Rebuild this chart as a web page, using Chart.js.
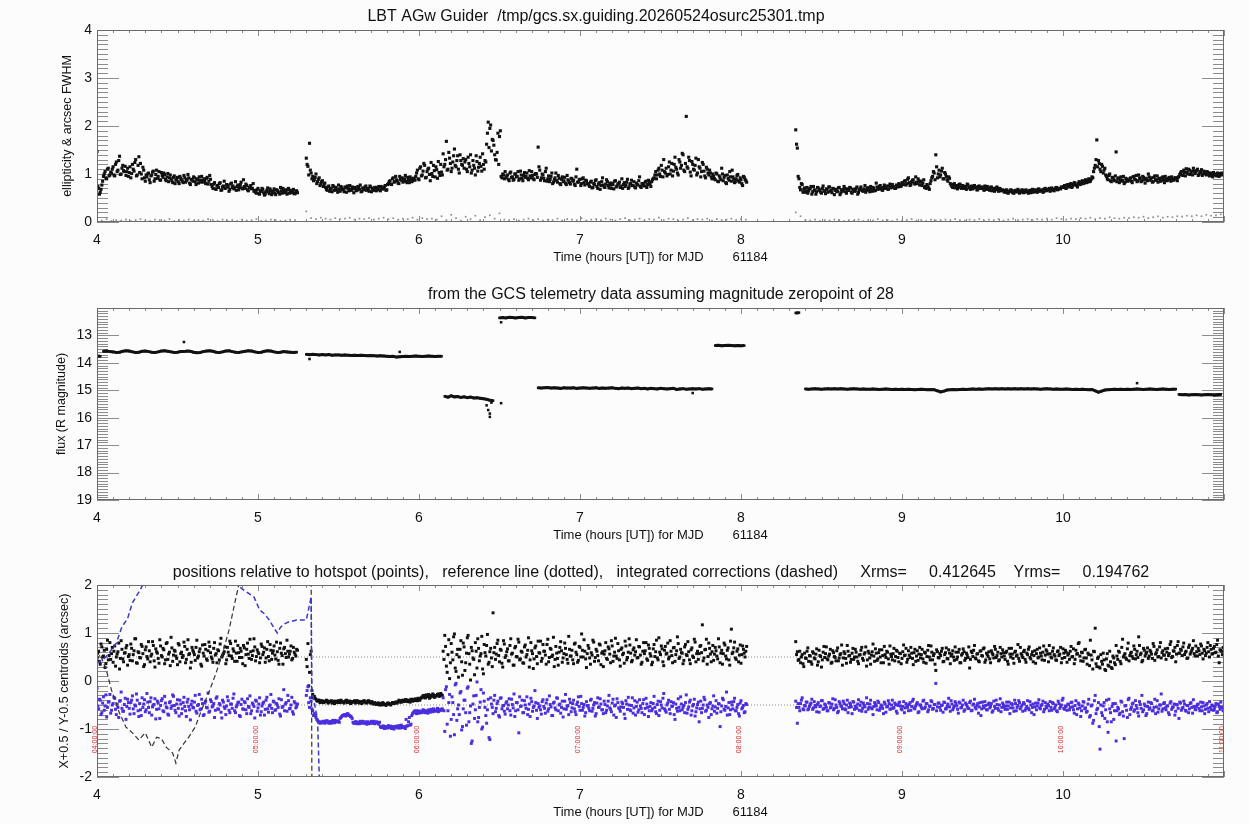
<!DOCTYPE html>
<html>
<head>
<meta charset="utf-8">
<script src="https://cdn.jsdelivr.net/npm/chart.js@4"></script>
<style>
body { margin: 0; background: #fdfcfd; }
canvas { position: absolute; left: 0; }
</style>
</head>
<body>
<canvas id="c1" width="1249" height="275" style="top:0px"></canvas>
<canvas id="c2" width="1249" height="275" style="top:275px"></canvas>
<canvas id="c3" width="1249" height="274" style="top:550px"></canvas>
<script>
Chart.defaults.font.family = '"Liberation Sans", Arial, sans-serif';

/* ---- panel 1 : FWHM (black) & ellipticity (grey) ---- */
// two interleaved reads per 0.01 h column
var fwhmStep = 0.01;
var fwhmStart = [4.00, 5.30, 8.34];
var fwhmStart2 = [4.005, 5.305, 8.345];
var fwhmA = [1.47, 0.70, 0.62, 0.77,
	0.95, 1.05, 0.90, 1.12, 0.98,
	1.02, 1.15, 0.96, 1.25, 1.08, 1.37, 1.00, 1.18, 1.05,
	0.97, 1.12, 1.03, 0.92, 1.20, 1.06, 1.30, 0.98, 1.36,
	1.22, 0.90, 1.08, 0.85,
	0.94, 1.02, 0.82, 0.98, 1.06, 0.90, 1.08, 0.95, 0.88, 1.03, 0.93, 0.99, 0.86, 1.01, 0.92,
	0.90, 0.82, 0.96, 0.87, 0.93, 0.80, 0.91, 0.85, 0.97, 0.83, 0.89, 0.92, 0.78, 0.88, 0.94, 0.84, 0.90, 0.81, 0.87, 0.95, 0.83, 0.86, 0.91, 0.79, 0.97,
	0.78, 0.70, 0.82, 0.68, 0.75, 0.80, 0.66, 0.73, 0.85, 0.71, 0.77, 0.64, 0.79, 0.72, 0.69, 0.84, 0.74, 0.67, 0.78, 0.71, 0.88, 0.70, 0.76, 0.65, 0.73, 0.69, 0.80,
	0.66, 0.60, 0.70, 0.58, 0.64, 0.68, 0.56, 0.63, 0.71, 0.59, 0.65, 0.61, 0.69, 0.57, 0.66, 0.62, 0.72, 0.60, 0.64, 0.67, 0.58, 0.70, 0.63, 0.61, 0.68, 0.59, 0.65];
var fwhmA2 = [0.74, 0.58, 0.68, 0.85,
	1.00, 0.92, 1.10, 0.96, 1.04,
	1.10, 0.98, 1.20, 1.05, 1.28, 0.99, 1.12, 1.07, 1.16,
	1.05, 0.95, 1.15, 1.01, 1.10, 1.24, 0.96, 1.18, 1.03,
	1.00, 1.14, 0.92, 0.98,
	1.00, 0.88, 0.96, 1.04, 0.85, 0.99, 0.91, 1.05, 0.87, 0.97, 1.02, 0.89, 0.94, 0.84, 0.98,
	0.86, 0.93, 0.80, 0.90, 0.84, 0.95, 0.88, 0.82, 0.92, 0.86, 0.99, 0.81, 0.89, 0.85, 0.92, 0.78, 0.88, 0.94, 0.83, 0.87, 0.90, 0.80, 0.93, 0.85, 0.89,
	0.74, 0.79, 0.69, 0.76, 0.72, 0.82, 0.67, 0.75, 0.70, 0.78, 0.73, 0.68, 0.81, 0.75, 0.71, 0.66, 0.77, 0.72, 0.83, 0.69, 0.74, 0.79, 0.67, 0.72, 0.76, 0.70, 0.64,
	0.62, 0.67, 0.59, 0.65, 0.70, 0.61, 0.58, 0.66, 0.63, 0.69, 0.57, 0.64, 0.60, 0.67, 0.62, 0.58, 0.65, 0.70, 0.61, 0.63, 0.68, 0.60, 0.66, 0.62, 0.59, 0.64, 0.61];
var fwhmB = [1.33, 1.16, 1.64, 1.02,
	0.95, 0.88, 1.00, 0.84, 0.92, 0.80, 0.86, 0.78,
	0.72, 0.66, 0.75, 0.69, 0.63, 0.74, 0.70, 0.67, 0.77, 0.64, 0.71, 0.68, 0.73, 0.62, 0.70, 0.76, 0.66, 0.69, 0.72, 0.65,
	0.74, 0.68, 0.63, 0.71, 0.67, 0.75, 0.69, 0.64, 0.73, 0.70, 0.66, 0.72, 0.68, 0.74, 0.65, 0.71, 0.69, 0.76, 0.67,
	0.80, 0.86, 0.78, 0.92, 0.84, 0.88, 0.81, 0.95, 0.87, 0.83, 0.90, 0.85, 0.93, 0.82, 0.89, 0.86, 0.91,
	0.95, 1.08, 0.88, 1.15, 0.98, 1.22, 0.92, 1.05, 1.12, 0.86, 1.01, 1.18, 0.94, 1.09, 1.26, 0.97, 1.04,
	1.42, 1.20, 1.68, 1.10, 1.33, 1.05, 1.25, 1.52, 1.15, 1.38, 1.02, 1.28, 1.18,
	1.12, 1.30, 1.05, 1.22, 1.40, 1.08, 1.18, 0.98, 1.26, 1.14, 1.35, 1.06, 1.20, 1.28,
	1.62, 2.08, 1.95, 1.48, 1.70, 1.40, 1.29, 1.85, 1.78, 0.95, 1.00, 0.90,
	0.92, 0.98, 0.86, 1.04, 0.94, 0.89, 1.00, 0.95, 0.87, 1.06, 0.91, 0.97, 0.93, 1.02, 0.88, 0.96, 1.05, 0.90, 0.99,
	1.00, 1.56, 1.08, 0.92, 0.98, 0.86, 1.12, 0.90, 0.84, 0.95, 0.80, 0.88, 1.02, 0.83, 0.91, 0.78, 0.94, 0.86, 0.81, 0.97,
	0.85, 0.79, 0.90, 0.87, 0.76, 1.10, 0.83, 0.89, 0.80, 0.92, 0.77, 0.86,
	0.80, 0.74, 0.85, 0.72, 0.78, 0.88, 0.70, 0.82, 0.76, 0.92, 0.73, 0.79, 0.84, 0.71, 0.77, 0.81, 0.69, 0.86, 0.75, 0.80,
	0.72, 0.90, 0.78, 0.74, 0.83, 0.70, 0.79, 0.87, 0.76, 0.73, 0.81, 0.77, 0.94, 0.72, 0.80, 0.75, 0.85, 0.78, 0.82, 0.74, 0.88,
	0.92, 1.05, 0.98, 1.12, 0.95, 1.08, 1.30, 1.02, 0.96, 1.15, 1.00, 1.22, 1.06, 1.35, 1.10, 0.98, 1.25, 1.18, 1.40, 1.05,
	2.20, 1.12, 1.28, 0.96, 1.20, 1.08, 1.33, 1.02, 1.15, 0.94, 1.24, 1.06, 0.92, 1.10, 0.98, 1.02, 0.90,
	0.95, 0.88, 1.00, 0.84, 0.92, 1.12, 0.86, 0.97, 0.80, 0.91, 1.05, 0.85, 0.94, 0.82, 0.90, 0.99, 0.83, 0.88, 0.76, 0.93, 0.86];
var fwhmB2 = [1.20, 0.98, 1.08, 0.90,
	0.86, 0.93, 0.80, 0.89, 0.76, 0.84, 0.74, 0.81,
	0.68, 0.73, 0.64, 0.70, 0.76, 0.66, 0.72, 0.62, 0.69, 0.74, 0.67, 0.63, 0.71, 0.75, 0.65, 0.68, 0.73, 0.61, 0.70, 0.66,
	0.72, 0.77, 0.64, 0.69, 0.73, 0.66, 0.70, 0.75, 0.63, 0.68, 0.72, 0.65, 0.71, 0.67, 0.74, 0.69, 0.73, 0.66, 0.78,
	0.84, 0.79, 0.90, 0.83, 0.95, 0.86, 0.80, 0.89, 0.92, 0.85, 0.97, 0.82, 0.88, 0.94, 0.84, 0.91, 0.87,
	1.02, 0.90, 1.12, 0.96, 1.06, 1.18, 0.93, 1.10, 0.99, 1.24, 0.95, 1.07, 1.15, 0.91, 1.03, 1.20, 0.98,
	1.15, 1.30, 1.08, 1.45, 1.22, 1.12, 1.38, 1.18, 1.28, 1.10, 1.40, 1.20, 1.32,
	1.25, 1.10, 1.35, 1.15, 1.02, 1.28, 1.12, 1.38, 1.06, 1.22, 1.16, 1.42, 1.10, 1.25,
	1.85, 1.55, 2.02, 1.72, 1.60, 1.30, 1.45, 1.20, 1.90, 0.92, 0.98, 1.05,
	0.96, 0.89, 1.02, 0.93, 0.87, 1.00, 0.94, 1.05, 0.90, 0.98, 0.86, 1.03, 0.95, 0.91, 1.07, 0.92, 0.97, 0.88, 1.01,
	0.93, 1.15, 0.87, 1.00, 0.91, 1.05, 0.85, 0.96, 0.89, 1.02, 0.83, 0.92, 0.86, 0.97, 0.80, 0.89, 0.84, 0.93, 0.78, 0.88,
	0.82, 0.91, 0.85, 0.79, 0.94, 0.83, 0.88, 0.76, 0.90, 0.82, 0.87, 0.80,
	0.77, 0.83, 0.71, 0.80, 0.86, 0.74, 0.79, 0.68, 0.84, 0.77, 0.72, 0.88, 0.76, 0.81, 0.70, 0.78, 0.85, 0.73, 0.79, 0.83,
	0.75, 0.70, 0.82, 0.77, 0.89, 0.73, 0.80, 0.76, 0.84, 0.71, 0.78, 0.86, 0.74, 0.80, 0.77, 0.83, 0.72, 0.87, 0.79, 0.84, 0.90,
	0.98, 0.90, 1.08, 1.00, 1.18, 0.94, 1.05, 1.12, 0.99, 1.25, 1.08, 0.96, 1.20, 1.14, 1.02, 1.30, 1.12, 1.43, 1.08, 1.22,
	1.15, 1.35, 1.04, 1.26, 1.10, 1.18, 0.98, 1.30, 1.12, 1.05, 1.20, 0.96, 1.14, 1.02, 1.08, 0.94, 1.00,
	0.90, 1.02, 0.85, 0.96, 0.88, 1.00, 0.93, 0.82, 0.98, 0.87, 0.94, 1.08, 0.89, 0.84, 0.97, 0.86, 0.92, 0.80, 0.95, 0.89, 0.83];
var fwhmC = [1.92, 1.54, 0.90, 0.67, 0.78,
	0.68, 0.62, 0.72, 0.65, 0.70, 0.58, 0.74, 0.66, 0.63, 0.71, 0.67, 0.60, 0.75, 0.64, 0.69, 0.62, 0.73, 0.66, 0.70, 0.57,
	0.68, 0.64, 0.72, 0.61, 0.67, 0.74, 0.63, 0.69, 0.66, 0.71, 0.60, 0.68, 0.65, 0.73, 0.62, 0.70, 0.67, 0.64, 0.76, 0.66,
	0.71, 0.63, 0.69, 0.72, 0.65, 0.81, 0.68, 0.74, 0.70, 0.66, 0.77, 0.72, 0.69, 0.75, 0.71, 0.78, 0.73, 0.70, 0.76, 0.80, 0.74,
	0.82, 0.78, 0.86, 0.80, 0.92, 0.76, 0.84, 0.88, 0.79, 0.83, 0.90, 0.77, 0.85, 0.81, 0.72, 0.70, 0.75, 0.68,
	0.86, 0.95, 1.02, 1.40, 0.92, 1.08, 0.98, 1.12, 0.90, 1.00, 0.88, 0.94,
	0.80, 0.74, 0.78, 0.71, 0.76, 0.72, 0.79, 0.70, 0.75, 0.73, 0.68, 0.77, 0.71, 0.74, 0.69, 0.76, 0.72, 0.67, 0.75, 0.70,
	0.73, 0.66, 0.71, 0.74, 0.68, 0.72, 0.65, 0.70, 0.67, 0.73, 0.64, 0.69, 0.66,
	0.65, 0.62, 0.67, 0.60, 0.64, 0.66, 0.61, 0.65, 0.63, 0.68, 0.60, 0.64, 0.66, 0.62, 0.67, 0.63, 0.65, 0.61, 0.68, 0.64,
	0.66, 0.62, 0.69, 0.65, 0.67, 0.63, 0.70, 0.66, 0.68, 0.64, 0.71, 0.67, 0.69, 0.72, 0.68, 0.70, 0.73,
	0.72, 0.76, 0.70, 0.78, 0.74, 0.80, 0.75, 0.82, 0.77, 0.73, 0.84, 0.79, 0.86, 0.81, 0.88, 0.83, 0.90, 0.85, 0.94,
	1.05, 1.18, 1.71, 1.28, 1.10, 1.20, 1.02, 1.12,
	0.95, 0.88, 1.00, 0.84, 0.92, 0.86, 1.46, 0.90, 0.82, 0.94, 0.87, 0.80, 0.91, 0.85,
	0.86, 0.92, 0.82, 0.95, 0.88, 0.84, 0.98, 0.90, 0.86, 0.93, 0.81, 0.89, 1.00, 0.87, 0.92, 0.84, 0.96, 0.88, 0.83, 0.91,
	0.86, 0.94, 0.82, 0.89, 0.87, 0.93, 0.85, 0.90, 0.88, 0.92, 0.86,
	0.95, 1.02, 0.98, 1.08, 0.96, 1.04, 1.10, 0.99, 1.06, 1.12, 1.01, 1.07, 0.97, 1.05, 1.09, 1.00, 1.04, 0.98, 1.03, 0.96,
	1.01, 0.94, 0.99, 0.97, 1.02, 0.95, 1.00, 0.98];
var fwhmC2 = [1.62, 0.95, 0.72, 0.80, 0.62,
	0.71, 0.65, 0.60, 0.69, 0.74, 0.63, 0.67, 0.58, 0.72, 0.66, 0.62, 0.70, 0.65, 0.59, 0.68, 0.73, 0.64, 0.61, 0.69, 0.66,
	0.63, 0.71, 0.57, 0.67, 0.64, 0.70, 0.60, 0.66, 0.72, 0.62, 0.68, 0.64, 0.70, 0.58, 0.67, 0.73, 0.65, 0.69, 0.62, 0.71,
	0.67, 0.74, 0.64, 0.70, 0.66, 0.73, 0.69, 0.76, 0.67, 0.72, 0.70, 0.75, 0.68, 0.79, 0.72, 0.74, 0.70, 0.77, 0.73, 0.78, 0.75,
	0.79, 0.85, 0.77, 0.89, 0.82, 0.78, 0.87, 0.81, 0.94, 0.80, 0.86, 0.83, 0.76, 0.88, 0.74, 0.78, 0.71, 0.80,
	0.92, 1.05, 0.88, 1.15, 1.00, 0.94, 1.06, 0.90, 1.03, 0.95, 0.85, 0.91,
	0.77, 0.72, 0.80, 0.74, 0.69, 0.78, 0.73, 0.76, 0.70, 0.74, 0.79, 0.72, 0.68, 0.75, 0.71, 0.73, 0.67, 0.74, 0.70, 0.72,
	0.69, 0.75, 0.68, 0.70, 0.66, 0.73, 0.69, 0.64, 0.71, 0.68, 0.70, 0.65, 0.67,
	0.63, 0.66, 0.61, 0.64, 0.67, 0.62, 0.60, 0.66, 0.63, 0.65, 0.62, 0.67, 0.61, 0.65, 0.63, 0.60, 0.66, 0.64, 0.62, 0.67,
	0.63, 0.68, 0.64, 0.66, 0.62, 0.69, 0.65, 0.67, 0.70, 0.66, 0.68, 0.65, 0.71, 0.67, 0.70, 0.69, 0.72,
	0.74, 0.71, 0.77, 0.73, 0.79, 0.72, 0.78, 0.81, 0.76, 0.80, 0.78, 0.83, 0.80, 0.85, 0.82, 0.87, 0.84, 0.89, 0.92,
	1.12, 1.30, 1.15, 1.22, 1.05, 1.16, 1.08, 0.98,
	0.90, 0.97, 0.86, 0.93, 0.89, 0.96, 0.84, 0.92, 0.88, 0.85, 0.95, 0.83, 0.89, 0.87,
	0.90, 0.85, 0.94, 0.89, 0.97, 0.86, 0.92, 0.84, 0.95, 0.88, 0.91, 0.86, 0.94, 0.90, 0.83, 0.93, 0.87, 0.96, 0.90, 0.85,
	0.92, 0.88, 0.95, 0.86, 0.91, 0.89, 0.94, 0.87, 0.92, 0.90, 0.93,
	0.99, 1.05, 0.97, 1.03, 1.11, 1.00, 1.08, 1.02, 0.98, 1.06, 1.04, 1.10, 0.99, 1.03, 0.97, 1.06, 1.01, 1.05, 0.99, 1.02,
	0.97, 1.03, 1.00, 0.96, 1.01, 0.98, 1.02, 0.99];

var ellStep = 0.03;
var ellStart = [4.00, 5.30, 8.34];
var ellA = [0.05, 0.03, 0.06, 0.02, 0.04, 0.03, 0.05, 0.02, 0.04, 0.06,
	0.03, 0.02, 0.05, 0.04, 0.03, 0.06, 0.02, 0.04, 0.03, 0.05,
	0.02, 0.04, 0.03, 0.06, 0.04, 0.02, 0.05, 0.03, 0.04, 0.02,
	0.05, 0.03, 0.04, 0.06, 0.02, 0.03, 0.05, 0.04, 0.02, 0.03,
	0.05, 0.04];
var ellB = [0.22, 0.08, 0.06, 0.09, 0.07, 0.05, 0.08, 0.06, 0.07, 0.09,
	0.05, 0.07, 0.06, 0.08, 0.05, 0.07, 0.09, 0.06, 0.08, 0.05,
	0.07, 0.06, 0.09, 0.05, 0.08, 0.06, 0.07, 0.05, 0.12, 0.04,
	0.15, 0.08, 0.03, 0.11, 0.06, 0.13, 0.04, 0.10, 0.14, 0.07,
	0.18, 0.05, 0.04, 0.06, 0.03, 0.05, 0.07, 0.04, 0.06, 0.03,
	0.05, 0.04, 0.07, 0.03, 0.06, 0.05, 0.04, 0.08, 0.03, 0.05,
	0.06, 0.04, 0.07, 0.05, 0.03, 0.06, 0.08, 0.04, 0.05, 0.07,
	0.03, 0.06, 0.05, 0.09, 0.04, 0.07, 0.06, 0.03, 0.05, 0.08,
	0.04, 0.06, 0.05, 0.07, 0.03, 0.06, 0.04, 0.05, 0.07, 0.04,
	0.06, 0.05];
var ellC = [0.20, 0.12, 0.04, 0.03, 0.05, 0.02, 0.04, 0.03, 0.05, 0.04,
	0.02, 0.04, 0.03, 0.05, 0.02, 0.04, 0.03, 0.06, 0.03, 0.04,
	0.02, 0.05, 0.03, 0.04, 0.06, 0.03, 0.04, 0.02, 0.05, 0.03,
	0.04, 0.05, 0.03, 0.06, 0.04, 0.03, 0.05, 0.04, 0.06, 0.03,
	0.05, 0.04, 0.06, 0.03, 0.05, 0.07, 0.04, 0.05, 0.06, 0.04,
	0.06, 0.05, 0.07, 0.05, 0.08, 0.06, 0.05, 0.07, 0.06, 0.08,
	0.07, 0.09, 0.06, 0.08, 0.07, 0.10, 0.08, 0.07, 0.09, 0.08,
	0.10, 0.09, 0.11, 0.08, 0.10, 0.12, 0.09, 0.11, 0.10, 0.12,
	0.11, 0.13, 0.12, 0.14, 0.12, 0.15, 0.13, 0.14, 0.16];

/* ---- panel 2 : flux in R magnitude ---- */
var fluxStep = 0.02;
var fluxStart = [4.00, 4.04, 5.30, 6.16, 6.50, 6.74, 7.84, 8.34, 8.40, 10.72];
var flux1 = [13.75, 13.76];
var flux2 = [13.58, 13.57, 13.59, 13.60, 13.62, 13.61, 13.58, 13.56, 13.57, 13.60,
	13.62, 13.61, 13.58, 13.57, 13.59, 13.61, 13.62, 13.60, 13.57, 13.56,
	13.58, 13.60, 13.62, 13.61, 13.59, 13.59, 13.57, 13.58, 13.61, 13.63,
	13.62, 13.59, 13.57, 13.56, 13.58, 13.61, 13.62, 13.60, 13.57, 13.56,
	13.59, 13.61, 13.62, 13.60, 13.58, 13.56, 13.57, 13.60, 13.62, 13.61,
	13.58, 13.56, 13.57, 13.60, 13.62, 13.61, 13.59, 13.60, 13.61, 13.62,
	13.61];
var flux3 = [13.69, 13.70, 13.69, 13.70, 13.71, 13.70, 13.71, 13.70, 13.72, 13.71,
	13.71, 13.72, 13.71, 13.72, 13.73, 13.72, 13.73, 13.72, 13.73, 13.74,
	13.73, 13.74, 13.75, 13.74, 13.75, 13.76, 13.77, 13.76, 13.79, 13.78,
	13.77, 13.76, 13.77, 13.76, 13.75, 13.76, 13.77, 13.76, 13.75, 13.76,
	13.77, 13.76, 13.76];
var flux4 = [15.22, 15.25, 15.20, 15.24, 15.23, 15.26, 15.24, 15.27, 15.25, 15.28, 15.27, 15.29, 15.31, 15.33, 15.36, 15.38];
var flux5 = [12.36, 12.35, 12.36, 12.34, 12.35, 12.36, 12.35, 12.34, 12.36, 12.35, 12.35, 12.36];
var flux6 = [14.91, 14.92, 14.91, 14.90, 14.92, 14.91, 14.92, 14.93, 14.91, 14.92,
	14.92, 14.91, 14.93, 14.92, 14.91, 14.92, 14.93, 14.92, 14.91, 14.93,
	14.92, 14.93, 14.92, 14.91, 14.93, 14.94, 14.92, 14.93, 14.92, 14.94,
	14.93, 14.92, 14.94, 14.93, 14.95, 14.93, 14.94, 14.95, 14.93, 14.94,
	14.95, 14.94, 14.93, 14.97, 14.95, 14.94, 14.96, 14.95, 14.94, 14.95,
	14.94, 14.96, 14.95, 14.94, 14.95];
var flux7 = [13.37, 13.36, 13.38, 13.37, 13.36, 13.37, 13.38, 13.37, 13.38, 13.37];
var flux8 = [12.18, 12.17];
var flux9 = [14.95, 14.96, 14.95, 14.94, 14.95, 14.96, 14.95, 14.94, 14.95, 14.94,
	14.95, 14.94, 14.95, 14.96, 14.95, 14.94, 14.95, 14.96, 14.95, 14.96,
	14.96, 14.95, 14.96, 14.97, 14.96, 14.95, 14.96, 14.97, 14.96, 14.97,
	14.96, 14.97, 14.96, 14.97, 14.98, 14.97, 14.96, 14.97, 14.98, 14.97,
	14.98, 15.02, 15.06, 15.03, 14.99, 14.98, 14.97, 14.98, 14.97, 14.96,
	14.97, 14.96, 14.95, 14.96, 14.95, 14.96, 14.95, 14.94, 14.95, 14.94,
	14.95, 14.94, 14.95, 14.94, 14.95, 14.94, 14.95, 14.94, 14.95, 14.94,
	14.95, 14.94, 14.95, 14.96, 14.95, 14.94, 14.95, 14.96, 14.95, 14.96,
	14.96, 14.95, 14.96, 14.97, 14.96, 14.97, 14.96, 14.97, 14.98, 14.97,
	15.02, 15.07, 15.03, 14.99, 14.98, 14.97, 14.96, 14.97, 14.96, 14.97,
	14.96, 14.97, 14.96, 14.95, 14.96, 14.97, 14.96, 14.95, 14.96, 14.97,
	14.96, 14.95, 14.96, 14.97, 14.96, 14.96];
var flux10 = [15.15, 15.16, 15.15, 15.17, 15.16, 15.15, 15.16, 15.17, 15.16, 15.15, 15.16, 15.17, 15.16, 15.15];
var fluxOutT = [4.54, 5.32, 5.88, 6.42, 6.43, 6.44, 6.44, 6.45, 6.51, 6.51, 7.70, 10.46];
var fluxOutV = [13.24, 13.86, 13.60, 15.55, 15.72, 15.85, 15.97, 15.45, 15.47, 12.52, 15.10, 14.74];

/* ---- panel 3 : centroids X+0.5 (black) / Y-0.5 (blue) ---- */
var posStep = 0.01;
var posStart = [4.00, 5.30, 6.15, 8.34];
var posStart2 = [4.005, 5.305, 6.155, 8.345];
var xA = [0.48, 0.62, 0.35, 0.71, 0.52, 0.28, 0.66, 0.44, 0.80, 0.57,
	0.39, 0.73, 0.50, 0.61, 0.25, 0.84, 0.46, 0.58, 0.69, 0.33,
	0.55, 0.77, 0.42, 0.63, 0.88, 0.37, 0.59, 0.48, 0.72, 0.30,
	0.65, 0.51, 0.82, 0.40, 0.56, 0.74, 0.29, 0.61, 0.47, 0.86,
	0.53, 0.68, 0.36, 0.78, 0.45, 0.60, 0.91, 0.41, 0.64, 0.52,
	0.34, 0.75, 0.57, 0.49, 0.81, 0.38, 0.66, 0.55, 0.27, 0.70,
	0.60, 0.43, 0.85, 0.52, 0.67, 0.31, 0.58, 0.76, 0.46, 0.63,
	0.72, 0.50, 0.39, 0.80, 0.57, 0.65, 0.44, 0.89, 0.54, 0.61,
	0.36, 0.70, 0.53, 0.78, 0.47, 0.62, 0.83, 0.41, 0.59, 0.68,
	0.49, 0.74, 0.32, 0.66, 0.56, 0.87, 0.45, 0.63, 0.71, 0.51,
	0.60, 0.38, 0.77, 0.55, 0.69, 0.48, 0.82, 0.42, 0.64, 0.58,
	0.73, 0.46, 0.61, 0.35, 0.79, 0.53, 0.67, 0.57, 0.85, 0.50,
	0.62, 0.44, 0.70, 0.56, 0.66];
var xA2 = [0.58, 0.41, 0.77, 0.50, 0.64, 0.36, 0.85, 0.53, 0.45, 0.70,
	0.62, 0.31, 0.56, 0.79, 0.47, 0.66, 0.40, 0.59, 0.74, 0.51,
	0.43, 0.68, 0.55, 0.88, 0.38, 0.61, 0.49, 0.76, 0.57, 0.34,
	0.71, 0.46, 0.63, 0.52, 0.82, 0.42, 0.67, 0.58, 0.37, 0.73,
	0.50, 0.65, 0.44, 0.80, 0.56, 0.32, 0.69, 0.54, 0.62, 0.47,
	0.78, 0.40, 0.60, 0.53, 0.72, 0.45, 0.86, 0.57, 0.39, 0.64,
	0.55, 0.70, 0.48, 0.61, 0.35, 0.75, 0.52, 0.66, 0.43, 0.81,
	0.59, 0.46, 0.68, 0.54, 0.38, 0.63, 0.77, 0.50, 0.57, 0.71,
	0.44, 0.60, 0.83, 0.52, 0.67, 0.41, 0.58, 0.74, 0.49, 0.62,
	0.36, 0.69, 0.55, 0.79, 0.47, 0.61, 0.53, 0.88, 0.42, 0.65,
	0.57, 0.48, 0.72, 0.60, 0.39, 0.66, 0.51, 0.76, 0.45, 0.63,
	0.54, 0.81, 0.43, 0.68, 0.58, 0.35, 0.70, 0.49, 0.62, 0.56,
	0.73, 0.47, 0.60, 0.52, 0.64];
var xB = [0.45, 0.78, 0.18, 0.62, -0.28,
	-0.32, -0.38, -0.42, -0.40,
	-0.44, -0.42, -0.45, -0.43, -0.41, -0.44, -0.43, -0.46, -0.42, -0.44,
	-0.43, -0.41, -0.45, -0.42, -0.44, -0.43, -0.40, -0.44, -0.42, -0.45,
	-0.43, -0.41, -0.44, -0.42, -0.46, -0.43, -0.44, -0.41, -0.45, -0.43,
	-0.42, -0.46, -0.44, -0.47,
	-0.47, -0.49, -0.46, -0.48, -0.50, -0.47, -0.49, -0.48, -0.46, -0.49, -0.47, -0.45, -0.46, -0.44,
	-0.43, -0.41, -0.44, -0.40, -0.42, -0.39, -0.43, -0.41, -0.38, -0.42, -0.40, -0.37, -0.41, -0.39, -0.36,
	-0.33, -0.30, -0.35, -0.31, -0.28, -0.34, -0.32, -0.29, -0.33, -0.30, -0.27, -0.31, -0.29];
var xB2 = [0.30, -0.10, 0.55, -0.20, -0.35,
	-0.36, -0.41, -0.40, -0.45,
	-0.41, -0.45, -0.42, -0.40, -0.46, -0.43, -0.41, -0.44, -0.47, -0.42,
	-0.45, -0.43, -0.40, -0.44, -0.46, -0.41, -0.45, -0.42, -0.47, -0.43,
	-0.44, -0.46, -0.41, -0.45, -0.43, -0.47, -0.42, -0.44, -0.46, -0.41,
	-0.45, -0.43, -0.48, -0.45,
	-0.49, -0.46, -0.50, -0.47, -0.45, -0.49, -0.51, -0.46, -0.48, -0.50, -0.45, -0.47, -0.44, -0.46,
	-0.40, -0.44, -0.41, -0.43, -0.39, -0.42, -0.40, -0.44, -0.40, -0.38, -0.41, -0.39, -0.36, -0.40, -0.35,
	-0.31, -0.35, -0.29, -0.33, -0.36, -0.30, -0.27, -0.34, -0.31, -0.28, -0.32, -0.26, -0.30];
var xC = [0.62, 0.95, 0.31, 0.55, 0.05, 0.78, 0.44, 0.98, 0.20, 0.66,
	0.50, 0.84, 0.12, 0.71, 0.38, 0.90, 0.57, 0.02, 0.63, 0.45,
	0.80, 0.27, 0.68, 0.52, 0.93, 0.15, 0.59, 0.74, 0.35, 0.61,
	0.48, 1.42, 0.70, 0.56, 0.85, 0.40, 0.64, 0.29, 0.77, 0.53,
	0.67, 0.42, 0.88, 0.58, 0.33, 0.72, 0.50, 0.81, 0.46, 0.60,
	0.37, 0.75, 0.55, 0.90, 0.44, 0.63, 0.26, 0.69, 0.51, 0.83,
	0.58, 0.41, 0.76, 0.62, 0.35, 0.87, 0.49, 0.66, 0.54, 0.30,
	0.72, 0.47, 0.60, 0.82, 0.39, 0.57, 0.68, 0.45, 0.93, 0.52,
	0.64, 0.36, 0.79, 0.55, 0.43, 0.70, 0.98, 0.50, 0.62, 0.28,
	0.74, 0.48, 0.59, 0.85, 0.41, 0.66, 0.53, 0.77, 0.34, 0.61,
	0.56, 0.80, 0.45, 0.67, 0.38, 0.73, 0.52, 0.89, 0.47, 0.63,
	0.31, 0.69, 0.58, 0.83, 0.44, 0.60, 0.75, 0.40, 0.65, 0.54,
	0.86, 0.49, 0.71, 0.35, 0.62, 0.57, 0.80, 0.43, 0.68, 0.52,
	0.39, 0.76, 0.61, 0.48, 0.90, 0.55, 0.67, 0.32, 0.72, 0.58,
	0.46, 0.84, 0.53, 0.69, 0.41, 0.63, 0.78, 0.50, 0.59, 0.36,
	0.71, 0.55, 0.82, 0.44, 0.65, 0.52, 0.87, 0.40, 0.62, 0.57,
	0.74, 1.17, 0.48, 0.66, 0.35, 0.79, 0.56, 0.61, 0.43, 0.70,
	0.52, 0.88, 0.38, 0.64, 0.57, 0.75, 0.46, 0.69, 0.33, 1.08,
	0.60, 0.81, 0.45, 0.67, 0.54, 0.37, 0.73, 0.58, 0.62];
var xC2 = [0.45, 0.72, 0.18, 0.86, 0.38, 0.60, 0.92, 0.27, 0.55, 0.08,
	0.66, 0.40, 0.79, 0.22, 0.58, 0.95, 0.35, 0.70, 0.48, 0.13,
	0.62, 0.88, 0.42, 0.57, 0.25, 0.76, 0.52, 0.97, 0.39, 0.68,
	0.30, 0.59, 0.45, 0.78, 0.53, 0.66, 0.37, 0.84, 0.49, 0.61,
	0.42, 0.74, 0.56, 0.33, 0.69, 0.51, 0.87, 0.44, 0.62, 0.38,
	0.71, 0.50, 0.64, 0.29, 0.80, 0.57, 0.46, 0.73, 0.36, 0.59,
	0.83, 0.47, 0.62, 0.54, 0.76, 0.40, 0.68, 0.51, 0.91, 0.45,
	0.58, 0.33, 0.70, 0.63, 0.48, 0.79, 0.55, 0.37, 0.66, 0.52,
	0.44, 0.77, 0.60, 0.39, 0.72, 0.50, 0.64, 0.86, 0.46, 0.57,
	0.68, 0.35, 0.54, 0.81, 0.49, 0.62, 0.42, 0.75, 0.58, 0.30,
	0.63, 0.47, 0.71, 0.56, 0.84, 0.41, 0.60, 0.52, 0.78, 0.44,
	0.66, 0.55, 0.37, 0.73, 0.49, 0.88, 0.58, 0.43, 0.69, 0.61,
	0.48, 0.72, 0.54, 0.39, 0.80, 0.63, 0.46, 0.75, 0.57, 0.34,
	0.67, 0.51, 0.85, 0.44, 0.60, 0.73, 0.40, 0.64, 0.56, 0.79,
	0.50, 0.62, 0.38, 0.70, 0.55, 0.92, 0.47, 0.66, 0.58, 0.43,
	0.76, 0.53, 0.61, 0.36, 0.69, 0.49, 0.81, 0.57, 0.45, 0.72,
	0.59, 0.42, 0.65, 0.87, 0.51, 0.68, 0.40, 0.74, 0.56, 0.63,
	0.46, 0.71, 0.58, 0.35, 0.79, 0.52, 0.64, 0.44, 0.83, 0.57,
	0.69, 0.48, 0.62, 0.40, 0.75, 0.55, 0.66, 0.50, 0.72];
var xD = [0.82, 0.61, 0.45, 0.38, 0.55, 0.30, 0.48, 0.62, 0.41, 0.52,
	0.35, 0.58, 0.46, 0.67, 0.40, 0.53, 0.29, 0.60, 0.49, 0.71,
	0.44, 0.56, 0.37, 0.63, 0.51, 0.42, 0.69, 0.48, 0.57, 0.33,
	0.61, 0.47, 0.74, 0.52, 0.39, 0.58, 0.45, 0.66, 0.50, 0.36,
	0.55, 0.70, 0.43, 0.59, 0.31, 0.62, 0.48, 0.54, 0.77, 0.41,
	0.58, 0.46, 0.65, 0.38, 0.53, 0.72, 0.49, 0.60, 0.35, 0.56,
	0.44, 0.68, 0.51, 0.62, 0.40, 0.57, 0.47, 0.75, 0.54, 0.39,
	0.63, 0.49, 0.58, 0.34, 0.66, 0.52, 0.43, 0.70, 0.55, 0.46,
	0.60, 0.37, 0.64, 0.50, 0.73, 0.44, 0.57, 0.22, 0.61, 0.48,
	0.53, 0.68, 0.41, 0.59, 0.47, 0.65, 0.36, 0.56, 0.50, 0.71,
	0.45, 0.60, 0.38, 0.54, 0.67, 0.43, 0.58, 0.49, 0.27, 0.62,
	0.51, 0.74, 0.46, 0.57, 0.40, 0.63, 0.52, 0.69, 0.44, 0.55,
	0.61, 0.38, 0.58, 0.48, 0.66, 0.53, 0.42, 0.70, 0.50, 0.59,
	0.45, 0.62, 0.35, 0.56, 0.68, 0.47, 0.60, 0.52, 0.76, 0.41,
	0.57, 0.49, 0.64, 0.39, 0.55, 0.71, 0.46, 0.61, 0.53, 0.37,
	0.66, 0.50, 0.58, 0.44, 0.73, 0.54, 0.62, 0.40, 0.57, 0.48,
	0.69, 0.52, 0.43, 0.63, 0.56, 0.38, 0.67, 0.49, 0.60, 0.54,
	0.45, 0.72, 0.51, 0.36, 0.64, 0.57, 0.80, 0.42, 0.59, 0.48,
	0.66, 0.35, 0.55, 0.85, 0.44, 0.62, 1.10, 0.30, 0.50, 0.27,
	0.41, 0.58, 0.24, 0.46, 0.33, 0.62, 0.28, 0.52, 0.38, 0.74,
	0.45, 0.60, 0.36, 0.87, 0.54, 0.48, 0.67, 0.42, 0.58, 0.51,
	0.73, 0.46, 0.62, 0.92, 0.55, 0.40, 0.68, 0.52, 0.60, 0.47,
	0.64, 0.56, 0.78, 0.43, 0.59, 0.50, 0.71, 0.48, 0.63, 0.54,
	0.45, 0.68, 0.57, 0.82, 0.51, 0.62, 0.40, 0.74, 0.58, 0.66,
	0.53, 0.79, 0.60, 0.47, 0.70, 0.56, 0.64, 0.84, 0.52, 0.61,
	0.68, 0.55, 0.73, 0.46, 0.63, 0.58, 0.80, 0.50, 0.66, 0.57,
	0.72, 0.60, 0.85, 0.38, 0.64, 0.55];
var xD2 = [0.55, 0.43, 0.62, 0.50, 0.36, 0.58, 0.47, 0.69, 0.53, 0.40,
	0.61, 0.48, 0.56, 0.33, 0.64, 0.51, 0.44, 0.72, 0.57, 0.46,
	0.52, 0.66, 0.39, 0.59, 0.49, 0.63, 0.42, 0.55, 0.75, 0.48,
	0.57, 0.37, 0.62, 0.53, 0.45, 0.68, 0.50, 0.60, 0.41, 0.54,
	0.64, 0.47, 0.56, 0.71, 0.44, 0.58, 0.35, 0.61, 0.52, 0.67,
	0.43, 0.59, 0.50, 0.65, 0.38, 0.55, 0.62, 0.46, 0.73, 0.51,
	0.57, 0.42, 0.64, 0.49, 0.58, 0.36, 0.61, 0.53, 0.68, 0.45,
	0.54, 0.70, 0.47, 0.59, 0.41, 0.63, 0.56, 0.48, 0.66, 0.39,
	0.58, 0.51, 0.74, 0.44, 0.60, 0.53, 0.35, 0.65, 0.49, 0.57,
	0.62, 0.40, 0.55, 0.69, 0.46, 0.58, 0.52, 0.63, 0.43, 0.60,
	0.50, 0.66, 0.38, 0.57, 0.61, 0.47, 0.54, 0.71, 0.45, 0.59,
	0.64, 0.48, 0.56, 0.42, 0.62, 0.53, 0.67, 0.39, 0.58, 0.51,
	0.46, 0.63, 0.55, 0.72, 0.49, 0.60, 0.44, 0.57, 0.65, 0.52,
	0.59, 0.41, 0.68, 0.50, 0.56, 0.37, 0.62, 0.54, 0.47, 0.70,
	0.53, 0.61, 0.45, 0.58, 0.66, 0.49, 0.55, 0.40, 0.63, 0.57,
	0.48, 0.69, 0.52, 0.60, 0.43, 0.65, 0.56, 0.74, 0.50, 0.62,
	0.55, 0.44, 0.61, 0.53, 0.70, 0.47, 0.58, 0.64, 0.39, 0.57,
	0.62, 0.50, 0.67, 0.45, 0.56, 0.78, 0.52, 0.60, 0.41, 0.65,
	0.48, 0.58, 0.32, 0.54, 0.25, 0.61, 0.36, 0.47, 0.29, 0.55,
	0.35, 0.44, 0.22, 0.57, 0.31, 0.40, 0.26, 0.48, 0.34, 0.52,
	0.62, 0.41, 0.70, 0.50, 0.57, 0.45, 0.79, 0.53, 0.60, 0.47,
	0.66, 0.55, 0.49, 0.74, 0.58, 0.43, 0.64, 0.57, 0.69, 0.52,
	0.61, 0.47, 0.72, 0.56, 0.65, 0.51, 0.80, 0.59, 0.54, 0.67,
	0.60, 0.53, 0.76, 0.49, 0.63, 0.70, 0.56, 0.82, 0.58, 0.64,
	0.71, 0.55, 0.62, 0.48, 0.75, 0.60, 0.68, 0.57, 0.73, 0.52,
	0.63, 0.77, 0.58, 0.66, 0.53, 0.70, 0.61, 0.74, 0.56, 0.68,
	0.59, 0.76, 0.52, 0.65, 0.62, 0.70];
var yA = [-0.15, -0.58, -0.40, -0.66, -0.33, -0.52, -0.75, -0.44, -0.28, -0.61,
	-0.47, -0.36, -0.70, -0.55, -0.42, -0.23, -0.63, -0.49, -0.80, -0.38,
	-0.57, -0.45, -0.31, -0.68, -0.52, -0.40, -0.74, -0.60, -0.35, -0.48,
	-0.64, -0.26, -0.55, -0.43, -0.71, -0.50, -0.37, -0.59, -0.46, -0.78,
	-0.41, -0.62, -0.32, -0.54, -0.69, -0.45, -0.57, -0.29, -0.51, -0.66,
	-0.39, -0.73, -0.48, -0.58, -0.34, -0.62, -0.44, -0.53, -0.81, -0.42,
	-0.56, -0.30, -0.67, -0.49, -0.60, -0.38, -0.72, -0.46, -0.55, -0.25,
	-0.63, -0.43, -0.52, -0.76, -0.36, -0.58, -0.47, -0.65, -0.40, -0.54,
	-0.70, -0.33, -0.61, -0.48, -0.57, -0.27, -0.66, -0.50, -0.44, -0.74,
	-0.38, -0.59, -0.45, -0.68, -0.53, -0.31, -0.62, -0.49, -0.77, -0.42,
	-0.56, -0.35, -0.64, -0.47, -0.71, -0.40, -0.58, -0.52, -0.28, -0.66,
	-0.44, -0.60, -0.50, -0.37, -0.73, -0.55, -0.18, -0.48, -0.63, -0.41,
	-0.57, -0.34, -0.69, -0.46, -0.53];
var yA2 = [-0.52, -0.38, -0.70, -0.46, -0.61, -0.29, -0.55, -0.43, -0.67, -0.50,
	-0.34, -0.59, -0.48, -0.76, -0.41, -0.57, -0.63, -0.36, -0.53, -0.45,
	-0.69, -0.40, -0.58, -0.50, -0.27, -0.62, -0.47, -0.72, -0.55, -0.39,
	-0.60, -0.44, -0.66, -0.35, -0.54, -0.49, -0.79, -0.42, -0.58, -0.51,
	-0.37, -0.64, -0.46, -0.56, -0.71, -0.43, -0.52, -0.32, -0.61, -0.48,
	-0.57, -0.40, -0.68, -0.45, -0.53, -0.74, -0.38, -0.60, -0.49, -0.55,
	-0.44, -0.63, -0.51, -0.28, -0.58, -0.47, -0.70, -0.42, -0.56, -0.65,
	-0.39, -0.54, -0.47, -0.61, -0.33, -0.59, -0.50, -0.77, -0.44, -0.57,
	-0.52, -0.41, -0.66, -0.48, -0.36, -0.62, -0.54, -0.45, -0.72, -0.49,
	-0.58, -0.43, -0.60, -0.37, -0.55, -0.68, -0.46, -0.53, -0.40, -0.63,
	-0.48, -0.71, -0.52, -0.44, -0.59, -0.34, -0.65, -0.50, -0.57, -0.42,
	-0.61, -0.47, -0.55, -0.69, -0.39, -0.53, -0.62, -0.45, -0.30, -0.58,
	-0.50, -0.64, -0.43, -0.56, -0.48];
var yB = [-0.30, -0.12, -0.55, -0.42, -0.62,
	-0.68, -0.76, -0.82, -0.86,
	-0.85, -0.87, -0.84, -0.86, -0.83, -0.88, -0.85, -0.84, -0.86, -0.82, -0.85, -0.83,
	-0.78, -0.74, -0.72, -0.70, -0.71, -0.69, -0.72, -0.75,
	-0.86, -0.88, -0.85, -0.87, -0.89, -0.86, -0.84, -0.88, -0.87, -0.85, -0.89, -0.86, -0.88, -0.84, -0.87, -0.86, -0.90,
	-0.95, -0.97, -0.94, -0.98, -0.96, -0.93, -0.97, -0.99, -0.95, -0.96, -0.94, -0.98, -0.96, -0.92, -0.97, -0.95, -0.80, -0.93, -0.76, -0.90,
	-0.68, -0.64, -0.66, -0.62, -0.67, -0.63, -0.65, -0.61, -0.66, -0.64, -0.60, -0.65, -0.62, -0.58, -0.63, -0.60, -0.64, -0.59, -0.61];
var yB2 = [-0.20, -0.45, -0.35, -0.58, -0.72,
	-0.72, -0.80, -0.85, -0.88,
	-0.87, -0.84, -0.88, -0.83, -0.86, -0.85, -0.88, -0.82, -0.87, -0.85, -0.84, -0.86,
	-0.76, -0.72, -0.70, -0.73, -0.68, -0.72, -0.74, -0.78,
	-0.88, -0.85, -0.89, -0.86, -0.84, -0.88, -0.87, -0.85, -0.90, -0.86, -0.88, -0.84, -0.87, -0.89, -0.85, -0.88, -0.86,
	-0.97, -0.94, -0.99, -0.95, -0.98, -0.96, -0.94, -0.97, -1.00, -0.95, -0.97, -0.93, -0.98, -0.95, -0.96, -0.99, -0.94, -0.85, -0.92, -0.72,
	-0.66, -0.62, -0.68, -0.64, -0.63, -0.66, -0.60, -0.65, -0.62, -0.67, -0.63, -0.59, -0.64, -0.61, -0.62, -0.57, -0.62, -0.60, -0.58];
var yC = [-0.35, -1.05, -0.12, -0.62, -0.28, -0.80, -0.45, -1.12, -0.05, -0.58,
	-0.70, -0.22, -0.95, -0.40, -0.66, -0.15, -0.85, -0.52, -1.25, -0.31,
	-0.60, -0.02, -0.76, -0.44, -1.00, -0.25, -0.55, -0.88, -0.38, -1.22,
	-0.48, -0.68, -0.30, -0.57, -0.42, -0.75, -0.35, -0.52, -0.63, -0.46,
	-0.58, -0.37, -0.71, -0.49, -0.27, -0.62, -0.45, -1.08, -0.53, -0.40,
	-0.66, -0.50, -0.33, -0.59, -0.74, -0.43, -0.55, -0.20, -0.61, -0.47,
	-0.52, -0.69, -0.39, -0.57, -0.46, -0.63, -0.31, -0.54, -0.72, -0.44,
	-0.60, -0.36, -0.50, -0.67, -0.42, -0.58, -0.28, -0.53, -0.70, -0.45,
	-0.56, -0.40, -0.64, -0.49, -0.33, -0.61, -0.47, -0.55, -0.73, -0.43,
	-0.51, -0.62, -0.38, -0.57, -0.45, -0.68, -0.35, -0.54, -0.48, -0.60,
	-0.42, -0.66, -0.52, -0.30, -0.59, -0.46, -0.71, -0.50, -0.37, -0.56,
	-0.63, -0.44, -0.55, -0.78, -0.48, -0.34, -0.60, -0.51, -0.67, -0.41,
	-0.53, -0.65, -0.39, -0.57, -0.47, -0.70, -0.36, -0.55, -0.62, -0.45,
	-0.58, -0.32, -0.64, -0.49, -0.72, -0.43, -0.56, -0.26, -0.61, -0.50,
	-0.40, -0.68, -0.53, -0.45, -0.80, -0.57, -0.37, -0.62, -0.48, -0.55,
	-0.66, -0.29, -0.59, -0.44, -0.71, -0.52, -0.38, -0.64, -0.49, -0.85,
	-0.42, -0.57, -0.34, -0.63, -0.50, -0.76, -0.45, -0.58, -0.31, -0.54,
	-0.67, -0.47, -0.95, -0.52, -0.39, -0.61, -0.23, -0.56, -0.70, -0.44,
	-0.58, -0.36, -0.62, -0.49, -0.73, -0.41, -0.55, -0.66, -0.47];
var yC2 = [-0.62, -0.18, -0.90, -0.45, -1.15, -0.33, -0.70, -0.08, -0.82, -0.50,
	-0.25, -1.02, -0.58, -0.40, -0.92, -0.12, -0.66, -1.30, -0.48, -0.78,
	-0.30, -0.85, -0.55, -0.18, -0.96, -0.42, -0.72, -0.60, -1.18, -0.35,
	-0.55, -0.40, -0.64, -0.47, -0.72, -0.36, -0.58, -0.51, -0.69, -0.43,
	-0.50, -0.62, -0.38, -0.56, -0.74, -0.45, -0.60, -0.33, -0.52, -0.66,
	-0.41, -0.57, -0.70, -0.48, -0.36, -0.63, -0.52, -0.45, -0.78, -0.55,
	-0.60, -0.43, -0.53, -0.67, -0.39, -0.58, -0.49, -0.72, -0.46, -0.56,
	-0.35, -0.62, -0.48, -0.55, -0.75, -0.42, -0.59, -0.51, -0.38, -0.64,
	-0.47, -0.58, -0.70, -0.44, -0.53, -0.32, -0.61, -0.49, -0.66, -0.52,
	-0.57, -0.40, -0.63, -0.50, -0.73, -0.46, -0.55, -0.37, -0.60, -0.68,
	-0.49, -0.61, -0.42, -0.56, -0.64, -0.38, -0.52, -0.76, -0.45, -0.58,
	-0.54, -0.47, -0.69, -0.41, -0.59, -0.50, -0.62, -0.35, -0.56, -0.71,
	-0.44, -0.60, -0.52, -0.66, -0.39, -0.57, -0.48, -0.74, -0.53, -0.62,
	-0.47, -0.55, -0.68, -0.42, -0.61, -0.50, -0.36, -0.58, -0.65, -0.46,
	-0.59, -0.43, -0.52, -0.70, -0.48, -0.63, -0.55, -0.33, -0.60, -0.51,
	-0.45, -0.67, -0.54, -0.40, -0.62, -0.49, -0.73, -0.56, -0.44, -0.58,
	-0.66, -0.50, -0.39, -0.61, -0.55, -0.47, -0.70, -0.52, -0.63, -0.41,
	-0.57, -0.48, -0.64, -0.36, -0.59, -0.53, -0.71, -0.45, -0.60, -0.50,
	-0.43, -0.62, -0.55, -0.68, -0.46, -0.58, -0.51, -0.64, -0.49];
var yD = [-0.42, -0.88, -0.55, -0.47, -0.35, -0.60, -0.52, -0.44, -0.58, -0.49,
	-0.38, -0.56, -0.51, -0.64, -0.45, -0.53, -0.41, -0.59, -0.48, -0.55,
	-0.62, -0.46, -0.54, -0.37, -0.57, -0.50, -0.66, -0.43, -0.52, -0.58,
	-0.47, -0.60, -0.40, -0.55, -0.49, -0.68, -0.44, -0.53, -0.57, -0.39,
	-0.51, -0.63, -0.46, -0.54, -0.35, -0.59, -0.48, -0.56, -0.70, -0.45,
	-0.52, -0.42, -0.61, -0.50, -0.57, -0.44, -0.65, -0.53, -0.47, -0.58,
	-0.40, -0.55, -0.49, -0.67, -0.46, -0.52, -0.60, -0.43, -0.56, -0.51,
	-0.62, -0.45, -0.53, -0.38, -0.58, -0.48, -0.66, -0.50, -0.55, -0.42,
	-0.57, -0.47, -0.64, -0.52, -0.41, -0.59, -0.49, -0.05, -0.54, -0.46,
	-0.61, -0.50, -0.44, -0.58, -0.53, -0.36, -0.63, -0.48, -0.56, -0.43,
	-0.52, -0.67, -0.46, -0.55, -0.40, -0.60, -0.49, -0.57, -0.45, -0.62,
	-0.50, -0.38, -0.58, -0.47, -0.54, -0.72, -0.44, -0.56, -0.51, -0.60,
	-0.46, -0.53, -0.65, -0.42, -0.57, -0.49, -0.61, -0.37, -0.55, -0.50,
	-0.59, -0.44, -0.52, -0.68, -0.47, -0.56, -0.40, -0.62, -0.51, -0.45,
	-0.54, -0.63, -0.48, -0.57, -0.41, -0.60, -0.50, -0.55, -0.70, -0.46,
	-0.52, -0.39, -0.58, -0.49, -0.64, -0.45, -0.56, -0.51, -0.43, -0.61,
	-0.47, -0.55, -0.62, -0.42, -0.57, -0.50, -0.36, -0.59, -0.53, -0.48,
	-0.60, -0.45, -0.54, -0.67, -0.41, -0.58, -0.49, -0.74, -0.52, -0.44,
	-0.56, -0.63, -0.38, -0.72, -0.50, -0.82, -0.30, -0.60, -0.45, -1.42,
	-0.66, -0.52, -0.78, -0.40, -1.07, -0.58, -0.85, -0.47, -0.62, -1.25,
	-0.55, -0.70, -0.42, -0.64, -1.20, -0.51, -0.76, -0.36, -0.59, -0.48,
	-0.63, -0.41, -0.57, -0.73, -0.49, -0.30, -0.60, -0.52, -0.68, -0.44,
	-0.56, -0.47, -0.62, -0.38, -0.54, -0.65, -0.50, -0.27, -0.58, -0.45,
	-0.60, -0.52, -0.70, -0.43, -0.55, -0.48, -0.63, -0.50, -0.78, -0.46,
	-0.57, -0.42, -0.61, -0.51, -0.66, -0.47, -0.55, -0.39, -0.59, -0.53,
	-0.48, -0.62, -0.54, -0.45, -0.68, -0.50, -0.57, -0.43, -0.60, -0.52,
	-0.58, -0.47, -0.65, -0.53, -0.44, -0.56];
var yD2 = [-0.55, -0.47, -0.62, -0.40, -0.58, -0.51, -0.44, -0.60, -0.53, -0.46,
	-0.59, -0.43, -0.54, -0.49, -0.65, -0.52, -0.41, -0.57, -0.50, -0.62,
	-0.45, -0.56, -0.48, -0.60, -0.39, -0.55, -0.63, -0.47, -0.53, -0.42,
	-0.58, -0.50, -0.66, -0.46, -0.54, -0.43, -0.59, -0.52, -0.48, -0.61,
	-0.44, -0.57, -0.51, -0.64, -0.47, -0.55, -0.40, -0.58, -0.53, -0.49,
	-0.60, -0.45, -0.56, -0.52, -0.68, -0.48, -0.54, -0.41, -0.59, -0.50,
	-0.57, -0.46, -0.63, -0.51, -0.44, -0.58, -0.53, -0.66, -0.47, -0.55,
	-0.49, -0.61, -0.42, -0.56, -0.52, -0.45, -0.64, -0.50, -0.58, -0.40,
	-0.54, -0.47, -0.60, -0.53, -0.43, -0.57, -0.49, -0.62, -0.46, -0.55,
	-0.51, -0.65, -0.45, -0.58, -0.48, -0.54, -0.41, -0.60, -0.52, -0.47,
	-0.59, -0.44, -0.56, -0.50, -0.63, -0.46, -0.53, -0.57, -0.42, -0.61,
	-0.48, -0.55, -0.51, -0.67, -0.45, -0.58, -0.52, -0.43, -0.60, -0.49,
	-0.56, -0.47, -0.62, -0.53, -0.40, -0.57, -0.50, -0.64, -0.46, -0.54,
	-0.52, -0.59, -0.44, -0.56, -0.49, -0.63, -0.47, -0.55, -0.41, -0.58,
	-0.50, -0.45, -0.61, -0.53, -0.57, -0.43, -0.66, -0.48, -0.54, -0.60,
	-0.46, -0.56, -0.51, -0.42, -0.59, -0.53, -0.48, -0.62, -0.55, -0.45,
	-0.58, -0.50, -0.64, -0.47, -0.53, -0.40, -0.57, -0.52, -0.61, -0.49,
	-0.55, -0.44, -0.60, -0.51, -0.70, -0.46, -0.56, -0.62, -0.43, -0.58,
	-0.65, -0.48, -0.75, -0.52, -0.88, -0.41, -0.68, -0.57, -0.95, -0.50,
	-0.72, -0.45, -0.60, -0.85, -0.38, -0.66, -0.53, -0.80, -0.47, -0.62,
	-0.58, -0.67, -0.44, -0.73, -0.52, -0.61, -0.39, -0.70, -0.55, -0.46,
	-0.60, -0.51, -0.66, -0.43, -0.57, -0.64, -0.48, -0.72, -0.53, -0.59,
	-0.45, -0.62, -0.55, -0.68, -0.41, -0.58, -0.50, -0.63, -0.47, -0.56,
	-0.52, -0.66, -0.46, -0.59, -0.54, -0.71, -0.49, -0.57, -0.44, -0.61,
	-0.55, -0.48, -0.63, -0.51, -0.58, -0.45, -0.67, -0.53, -0.60, -0.49,
	-0.57, -0.44, -0.62, -0.52, -0.59, -0.47, -0.64, -0.55, -0.50, -0.61,
	-0.53, -0.66, -0.48, -0.58, -0.55, -0.62];

// integrated corrections (dashed), values beyond +-2 run off the frame
var corrXT = [4.00, 4.02, 4.04, 4.06, 4.09, 4.14, 4.18, 4.22, 4.26, 4.30, 4.34, 4.37, 4.40, 4.43, 4.47, 4.49,
	4.51, 4.54, 4.57, 4.61, 4.65, 4.70, 4.74, 4.78, 4.82, 4.86, 4.90, 5.32, 5.33, 5.335, 5.34];
var corrXV = [0.45, 0.55, 0.38, 0.20, -0.19, -0.67, -0.96, -1.08, -1.23, -1.08, -1.38, -1.17, -1.20, -1.38, -1.50, -1.71,
	-1.44, -1.30, -1.17, -0.96, -0.60, -0.19, 0.17, 0.58, 1.06, 1.69, 2.30, 2.60, 2.40, -2.40, -2.60];
var corrYT = [4.00, 4.04, 4.075, 4.10, 4.12, 4.155, 4.19, 4.22, 4.26, 4.30, 4.34, 4.85, 4.87, 4.91, 4.94, 4.975,
	5.01, 5.04, 5.07, 5.10, 5.12, 5.14, 5.17, 5.19, 5.24, 5.30, 5.33, 5.335, 5.37, 5.385];
var corrYV = [0.37, 0.45, 0.58, 0.70, 0.79, 1.13, 1.30, 1.63, 1.85, 2.10, 2.50, 2.40, 2.00, 1.90, 1.83, 1.75,
	1.48, 1.40, 1.27, 1.10, 1.00, 1.12, 1.20, 1.23, 1.27, 1.27, 1.75, -0.20, -0.80, -2.50];

// reference lines (dotted)
var refT = [4, 11];
var refXV = [0.5, 0.5];
var refYV = [-0.5, -0.5];

// red UT stamps
var hourT = [4, 5, 6, 7, 8, 9, 10, 11];
var hourText = ['04:00:00', '05:00:00', '06:00:00', '07:00:00', '08:00:00', '09:00:00', '10:00:00', '11:00:00'];
var hourY = -1.22;

var xTicks = [4, 5, 6, 7, 8, 9, 10];
var yTicks1 = [0, 1, 2, 3, 4];
var yTicks2 = [13, 14, 15, 16, 17, 18, 19];
var yTicks3 = [-2, -1, 0, 1, 2];

/* ---- helpers ---- */
function series(t0, step, vals) {
	var out = [];
	for (var i = 0; i < vals.length; i++) out.push({x: t0 + i * step, y: vals[i]});
	return out;
}
function pairs(ts, vs) {
	return ts.map(function(t, i) { return {x: t, y: vs[i]}; });
}
function dots(data, color, r) {
	return {data: data, showLine: false, pointStyle: 'rect', pointRadius: r, pointBorderWidth: 0,
		backgroundColor: color, borderColor: color};
}
function line(data, color, w, dash, pr) {
	return {data: data, showLine: true, pointRadius: pr || 0, pointStyle: 'rect', pointBorderWidth: 0,
		backgroundColor: color, borderColor: color, borderWidth: w, borderDash: dash || [], fill: false, tension: 0};
}

/* frame, comb ticks, titles, UT stamps */
var framePlugin = {
	id: 'frame',
	beforeDatasetsDraw: function(chart, args, o) {
		var ctx = chart.ctx, a = chart.chartArea;
		var xs = chart.scales.x, ys = chart.scales.y;
		var k, p, len;
		ctx.save();
		ctx.lineWidth = 1;
		ctx.strokeStyle = '#8c8c8c';
		ctx.beginPath();
		for (k = 40; k <= 110; k++) {	// 0.1 h ticks
			p = Math.round(xs.getPixelForValue(k / 10)) + 0.5;
			len = (k % 10 == 0) ? 6 : 3;
			ctx.moveTo(p, a.bottom); ctx.lineTo(p, a.bottom - len);
			ctx.moveTo(p, a.top); ctx.lineTo(p, a.top + len);
		}
		for (k = Math.round(o.yMin * 10); k <= Math.round(o.yMax * 10); k++) {	// comb
			p = Math.round(ys.getPixelForValue(k / 10)) + 0.5;
			len = (k % 10 == 0) ? 22 : 11;
			ctx.moveTo(a.left, p); ctx.lineTo(a.left + len, p);
			ctx.moveTo(a.right, p); ctx.lineTo(a.right - len, p);
		}
		ctx.stroke();
		ctx.restore();
	},
	afterDatasetsDraw: function(chart, args, o) {
		var ctx = chart.ctx, a = chart.chartArea;
		var xs = chart.scales.x, ys = chart.scales.y;
		ctx.save();
		ctx.strokeStyle = '#6a6a6a';
		ctx.lineWidth = 1;
		ctx.strokeRect(Math.round(a.left) + 0.5, Math.round(a.top) + 0.5, Math.round(a.right - a.left) - 1, Math.round(a.bottom - a.top) - 1);

		ctx.fillStyle = '#111';
		ctx.font = '16px "Liberation Sans", Arial, sans-serif';
		ctx.textAlign = 'center';
		ctx.textBaseline = 'middle';
		ctx.fillText(o.title, o.titleX, o.titleY);

		if (o.hours) {
			ctx.fillStyle = '#e02828';
			ctx.font = '7px "Liberation Sans", Arial, sans-serif';
			for (var i = 0; i < hourT.length; i++) {
				ctx.save();
				ctx.translate(xs.getPixelForValue(hourT[i]) - 1.5, ys.getPixelForValue(hourY));
				ctx.rotate(-Math.PI / 2);
				ctx.fillText(hourText[i], 0, 0);
				ctx.restore();
			}
		}
		ctx.restore();
	}
};

function baseOptions(p, yTicks) {
	return {
		responsive: false,
		animation: false,
		devicePixelRatio: 1,
		events: [],
		layout: { padding: { top: p.top, right: 25, left: 0, bottom: 0 } },
		plugins: { legend: { display: false }, tooltip: { enabled: false }, frame: p },
		scales: {
			x: {
				type: 'linear', min: 4, max: 11,
				grid: { display: false, drawTicks: false },
				border: { display: false },
				afterBuildTicks: function(s) { s.ticks = xTicks.map(function(v) { return {value: v}; }); },
				ticks: { font: { size: 14 }, color: '#111', padding: 10, maxRotation: 0, autoSkip: false },
				title: { display: true, text: 'Time (hours [UT]) for MJD        61184', font: { size: 13 }, color: '#111',
					padding: { top: 0, bottom: p.xTitlePad } },
				afterFit: function(s) { s.height = p.xAxisH; }
			},
			y: {
				type: 'linear', min: p.yMin, max: p.yMax, reverse: !!p.reverse,
				grid: { display: false, drawTicks: false },
				border: { display: false },
				afterBuildTicks: function(s) { s.ticks = yTicks.map(function(v) { return {value: v}; }); },
				ticks: { font: { size: 14 }, color: '#111', padding: 5, autoSkip: false },
				title: { display: true, text: p.yTitle, font: { size: 12.5 }, color: '#111',
					padding: { top: p.yTitlePad, bottom: 0 } },
				afterFit: function(s) { s.width = 97; }
			}
		}
	};
}

/* panel 1 */
var fwhmSegs = [fwhmA, fwhmB, fwhmC];
var fwhmSegs2 = [fwhmA2, fwhmB2, fwhmC2];
var ellSegs = [ellA, ellB, ellC];
var p1Sets = [];
fwhmSegs.forEach(function(seg, i) {
	p1Sets.push(dots(series(fwhmStart[i], fwhmStep, seg), '#111', 2.2));
	p1Sets.push(dots(series(fwhmStart2[i], fwhmStep, fwhmSegs2[i]), '#111', 2.2));
	p1Sets.push(dots(series(ellStart[i], ellStep, ellSegs[i]), '#8f8f8f', 1.2));
});
new Chart(document.getElementById('c1'), {
	type: 'scatter',
	data: { datasets: p1Sets },
	options: baseOptions({ top: 30, xAxisH: 53, xTitlePad: 10, yMin: 0, yMax: 4,
		yTitle: 'ellipticity & arcsec FWHM', yTitlePad: 60,
		title: 'LBT AGw Guider  /tmp/gcs.sx.guiding.20260524osurc25301.tmp', titleX: 596, titleY: 17 }, yTicks1),
	plugins: [framePlugin]
});

/* panel 2 */
var fluxSegs = [flux1, flux2, flux3, flux4, flux5, flux6, flux7, flux8, flux9, flux10];
var fluxSets = fluxSegs.map(function(seg, i) {
	return line(series(fluxStart[i], fluxStep, seg), '#111', 3, [], 1.8);
});
fluxSets.push(dots(pairs(fluxOutT, fluxOutV), '#111', 1.8));
new Chart(document.getElementById('c2'), {
	type: 'scatter',
	data: { datasets: fluxSets },
	options: baseOptions({ top: 33, xAxisH: 50, xTitlePad: 7, yMin: 12, yMax: 19, reverse: true,
		yTitle: 'flux (R magnitude)', yTitlePad: 54,
		title: 'from the GCS telemetry data assuming magnitude zeropoint of 28', titleX: 661, titleY: 20 }, yTicks2),
	plugins: [framePlugin]
});

/* panel 3 */
var blue = '#4a2ee0';
var xSegs = [xA, xB, xC, xD], xSegs2 = [xA2, xB2, xC2, xD2];
var ySegs = [yA, yB, yC, yD], ySegs2 = [yA2, yB2, yC2, yD2];
var p3Sets = [
	line(pairs(corrYT, corrYV), '#3a3ad0', 1.5, [5, 3]),
	line(pairs(corrXT, corrXV), '#333', 1.2, [5, 3])
];
ySegs.forEach(function(seg, i) {
	p3Sets.push(dots(series(posStart[i], posStep, seg), blue, 2.1));
	p3Sets.push(dots(series(posStart2[i], posStep, ySegs2[i]), blue, 2.1));
});
xSegs.forEach(function(seg, i) {
	p3Sets.push(dots(series(posStart[i], posStep, seg), '#111', 2.1));
	p3Sets.push(dots(series(posStart2[i], posStep, xSegs2[i]), '#111', 2.1));
});
p3Sets.push(line(pairs(refT, refXV), '#8a8a8a', 1, [1, 2]));
p3Sets.push(line(pairs(refT, refYV), '#8a8a8a', 1, [1, 2]));
new Chart(document.getElementById('c3'), {
	type: 'scatter',
	data: { datasets: p3Sets },
	options: baseOptions({ top: 35, xAxisH: 47, xTitlePad: 4, yMin: -2, yMax: 2,
		yTitle: 'X+0.5 / Y-0.5 centroids (arcsec)', yTitlePad: 57, hours: true,
		title: 'positions relative to hotspot (points),   reference line (dotted),   integrated corrections (dashed)     Xrms=     0.412645    Yrms=     0.194762',
		titleX: 661, titleY: 23 }, yTicks3),
	plugins: [framePlugin]
});
</script>
</body>
</html>
